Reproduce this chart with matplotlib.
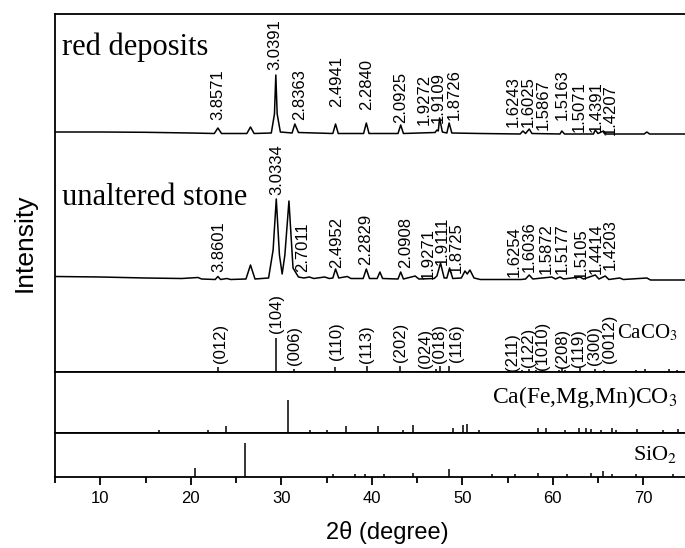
import matplotlib
matplotlib.use("Agg")
import matplotlib.pyplot as plt
from matplotlib.ticker import MultipleLocator

plt.rcParams['font.family'] = ['Liberation Sans', 'DejaVu Sans']
plt.rcParams['mathtext.fontset'] = 'stix'

# ---- measured patterns (2theta, intensity above local background) ----
red_tt = [5, 10, 15, 20, 22.6, 23.0, 23.4, 26.2, 26.6, 27.0, 28.9, 29.25, 29.4, 29.55,
          29.9, 31.2, 31.5, 31.9, 35.7, 36.0, 36.3, 39.1, 39.4, 39.7, 42.9, 43.2, 43.5,
          47.0, 47.2, 47.35, 47.5, 47.8, 48.3, 48.55, 48.85, 52, 56.4, 56.7, 57.0, 57.4,
          57.7, 60.8, 61.0, 61.3, 64.5, 64.7, 65.0, 65.6, 65.9, 70.1, 70.4, 70.7, 75]
red_I = [2, 2, 1.7, 1, 0.5, 6, 0.5, 0.5, 7, 0.5, 1, 20, 59, 20,
         2, 1, 10, 1.5, 0.5, 10, 0.5, 0.5, 11, 0.5, 0.5, 9, 0.5,
         1.5, 4, 3, 16, 2, 1, 11, 1, 0.5, 0, 3, 0.5, 5,
         0.5, 0, 3, 0, 0, 4, 0.5, 3, 0, 0, 2, 0, 0]

stone_tt = [5, 10, 15, 19, 20.8, 21.2, 22.7, 23.0, 23.3, 24.0, 24.4, 26.1, 26.6, 27.1,
            28.6, 29.1, 29.45, 29.8, 30.1, 30.4, 30.85, 31.3, 31.9, 32.5, 33.1, 33.6,
            34.8, 35.3, 35.7, 36.0, 36.35, 37.3, 37.7, 39.05, 39.4, 39.75, 40.6, 40.9,
            41.2, 42.9, 43.2, 43.5, 44.8, 45.2, 46.9, 47.2, 47.6, 48.0, 48.3, 48.6,
            48.95, 49.9, 50.3, 50.55, 50.85, 51.3, 52, 56.5, 57.0, 57.4, 57.8, 59.9,
            60.3, 60.8, 61.2, 63.0, 63.4, 64.7, 65.1, 65.8, 66.2, 67.4, 67.8, 70.4,
            70.8, 75]
stone_I = [3.5, 3, 2, 1.5, 2.5, 1, 0.5, 3.5, 0.5, 1.5, 0.5, 1, 15, 1,
           2, 30, 81, 25, 6, 25, 79, 12, 3, 2, 3, 1.5,
           3, 1.5, 2, 11, 2, 3.5, 1.5, 1.5, 11, 1.5, 1.5, 8,
           1.5, 1, 8, 1, 4, 1, 1.5, 4, 17, 2, 2, 12,
           1.5, 2, 9, 6, 10, 2, 0.5, 0.5, 1, 5, 1, 3,
           1, 3, 1, 3, 1, 5, 1, 4, 0.5, 2, 0.5, 2,
           0, 0]

# ---- peak annotations (d-spacings) ----
red_label_tt = [23.04, 29.3, 32.07, 36.1, 39.4, 43.2, 45.8, 47.3, 49.1, 55.6, 57.3,
                59.0, 61.1, 62.9, 64.8, 66.3]
red_label = ['3.8571', '3.0391', '2.8363', '2.4941', '2.2840', '2.0925', '1.9272',
             '1.9109', '1.8726', '1.6243', '1.6025', '1.5867', '1.5163', '1.5071',
             '1.4391', '1.4207']
stone_label_tt = [23.1, 29.5, 32.4, 36.1, 39.3, 43.7, 46.2, 47.75, 49.35, 55.8, 57.4,
                  59.3, 61.1, 63.2, 64.8, 66.4]
stone_label = ['3.8601', '3.0334', '2.7011', '2.4952', '2.2829', '2.0908', '1.9271',
               '1.9111', '1.8725', '1.6254', '1.6036', '1.5872', '1.5177', '1.5105',
               '1.4414', '1.4203']

# ---- reference stick patterns ----
caco3_tt = [23.06, 29.41, 31.44, 35.97, 39.42, 43.16, 47.12, 47.51, 48.52, 56.58, 57.40,
            58.10, 60.70, 61.0, 61.4, 63.06, 64.68, 65.62, 69.2, 70.2, 72.9, 73.7]
caco3_I = [5, 34, 3, 5, 6, 6, 3, 6, 6, 2, 3, 2, 2, 4, 2, 4, 3, 2, 2, 3, 3, 2]
caco3_hkl_tt = [23.25, 29.5, 31.5, 36.1, 39.4, 43.2, 45.9, 47.45, 49.4, 55.6, 57.3, 58.9,
                61.1, 62.9, 64.6, 66.3]
caco3_hkl = ['(012)', '(104)', '(006)', '(110)', '(113)', '(202)', '(024)', '(018)',
             '(116)', '(211)', '(122)', '(1010)', '(208)', '(119)', '(300)', '(0012)']

ank_tt = [16.5, 21.9, 23.9, 30.7, 33.2, 35.0, 37.1, 40.7, 43.5, 44.6, 49.0, 50.1, 50.5,
          51.8, 58.4, 59.3, 61.3, 62.9, 63.7, 64.2, 65.3, 66.6, 67.0, 69.3, 72.2, 73.8]
ank_I = [3, 3, 7, 33, 3, 3, 7, 7, 3, 8, 5, 8, 9, 3, 5, 5, 3, 5, 5, 4, 3, 5, 3, 4, 3, 4]

sio2_tt = [20.5, 26.0, 35.7, 38.1, 39.2, 41.4, 44.6, 48.5, 53.3, 55.8, 58.4, 61.6, 64.2,
           65.6, 66.5, 69.2, 73.3]
sio2_I = [9, 34, 3, 3, 3, 3, 4, 8, 3, 3, 4, 3, 4, 6, 3, 3, 3]

# ---- layout (pixels of a 685x548 canvas) ----
W, H = 685, 548
x_left, x_right = 5, 5 + (W - 55) / 9.05
red_off, stone_off = 238, 92
red_label_y = [252, 302, 252, 265, 262, 249, 247, 249, 252, 245, 245, 242, 252, 240, 240, 237]
stone_label_y = [100, 177, 100, 104, 107, 104, 93, 107, 99, 95, 100, 98, 98, 93, 98, 102]
hkl_y = [9, 39, 7, 12, 9, 10, 4, 9, 10, 1, 5, 2, 4, 5, 7, 9]

fig = plt.figure(figsize=(W / 100, H / 100), dpi=100)


def add_panel(top_px, bot_px):
    ax = fig.add_axes([55 / W, 1 - bot_px / H, (W - 55) / W, (bot_px - top_px) / H])
    ax.set_xlim(x_left, x_right)
    ax.set_ylim(0, bot_px - top_px)
    ax.set_yticks([])
    ax.spines['right'].set_visible(False)
    for s in ax.spines.values():
        s.set_linewidth(1.3)
    return ax


ax1 = add_panel(14, 372)
ax2 = add_panel(372, 433)
ax3 = add_panel(433, 477)
for ax in (ax1, ax2):
    ax.set_xticks([])
    ax.spines['bottom'].set_visible(False)

ax1.plot(red_tt, [v + red_off for v in red_I], color='black', lw=1.1)
ax1.plot(stone_tt, [v + stone_off for v in stone_I], color='black', lw=1.1)
ax1.vlines(caco3_tt, 0, caco3_I, color='black', lw=1.1)
ax2.vlines(ank_tt, 0, ank_I, color='black', lw=1.1)
ax3.vlines(sio2_tt, 0, sio2_I, color='black', lw=1.1)
ax2.axhline(0, color='black', lw=1.3)
ax1.axhline(0, color='black', lw=1.3)

lab_kw = dict(rotation=90, ha='center', va='bottom', fontsize=12)
for x, y, t in zip(red_label_tt, red_label_y, red_label):
    ax1.text(x, y, t, **lab_kw)
for x, y, t in zip(stone_label_tt, stone_label_y, stone_label):
    ax1.text(x, y, t, **lab_kw)
for x, y, t in zip(caco3_hkl_tt, hkl_y, caco3_hkl):
    ax1.text(x, y, t, **lab_kw)

serif = ['Liberation Serif', 'DejaVu Serif']
ax1.text(5.75, 372 - 55, 'red deposits', family=serif, fontsize=22)
ax1.text(5.75, 372 - 205, 'unaltered stone', family=serif, fontsize=22)
ax1.text(73.8, 372 - 338, r'CaCO$_3$', family=serif, fontsize=15, ha='right')
ax2.text(73.8, 433 - 403, r'Ca(Fe,Mg,Mn)CO$_3$', family=serif, fontsize=17, ha='right')
ax3.text(73.8, 477 - 460, r'SiO$_2$', family=serif, fontsize=16, ha='right')

ax3.xaxis.set_major_locator(MultipleLocator(10))
ax3.xaxis.set_minor_locator(MultipleLocator(5))
ax3.tick_params(axis='x', which='major', direction='out', length=6, width=1.3,
                labelsize=12, pad=4)
ax3.tick_params(axis='x', which='minor', direction='out', length=4, width=1.3)

fig.text(387 / W, 1 - 533 / H, '2θ (degree)', fontsize=17, ha='center', va='center')
fig.text(25 / W, 1 - 243 / H, 'Intensity', fontsize=19, rotation=90,
         ha='center', va='center')

fig.savefig('out.png', dpi=100)
